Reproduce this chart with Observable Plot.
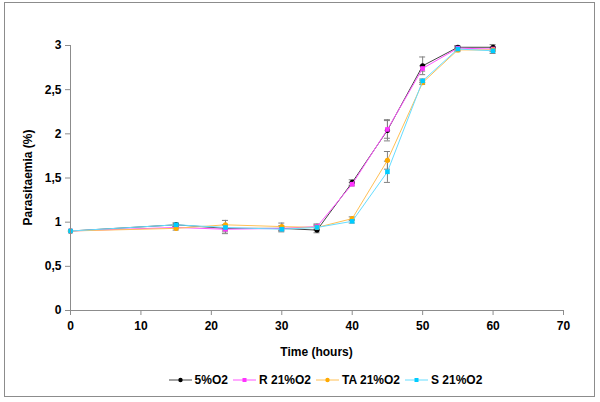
<!DOCTYPE html>
<html>
<head>
<meta charset="utf-8">
<script src="https://cdn.jsdelivr.net/npm/d3@7"></script>
<script src="https://cdn.jsdelivr.net/npm/@observablehq/plot@0.6"></script>
<style>
  html, body { margin: 0; padding: 0; background: #fff; }
  #wrap { position: relative; width: 600px; height: 402px; overflow: hidden; font-family: "Liberation Sans", Arial, sans-serif; }
  #frame { position: absolute; left: 4px; top: 2px; width: 589px; height: 393px; border: 1px solid #8c8c8c; pointer-events: none; }
  #chart { position: absolute; left: 0; top: 0; }
  #legend { position: absolute; left: 0; top: 371px; width: 600px; height: 18px; display: flex; justify-content: center; align-items: center; font: bold 12px "Liberation Sans", Arial, sans-serif; color: #000; padding-left: 56px; box-sizing: border-box; }
  .item { display: flex; align-items: center; margin-right: 5px; }
  .item svg { margin-right: 3px; }
</style>
</head>
<body>
<div id="wrap">
  <div id="chart"></div>
  <div id="legend"></div>
  <div id="frame"></div>
</div>
<script>
const hours = [0, 15, 22, 30, 35, 40, 45, 50, 55, 60];
const seriesNames = ["5%O2", "R 21%O2", "TA 21%O2", "S 21%O2"];
const v5 = [0.90, 0.97, 0.93, 0.93, 0.91, 1.45, 2.04, 2.77, 2.98, 2.98];
const vR = [0.90, 0.94, 0.92, 0.93, 0.95, 1.43, 2.05, 2.74, 2.97, 2.96];
const vTA = [0.90, 0.93, 0.97, 0.95, 0.94, 1.04, 1.70, 2.58, 2.95, 2.95];
const vS = [0.90, 0.97, 0.94, 0.92, 0.94, 1.01, 1.57, 2.60, 2.96, 2.94];
const e5 = [0, 0.02, 0.04, 0.03, 0.03, 0.03, 0.12, 0.10, 0.02, 0.03];
const eR = [0, 0.01, 0.05, 0.02, 0.03, 0.02, 0.10, 0.03, 0.02, 0.02];
const eTA = [0, 0.02, 0.05, 0.04, 0.02, 0.02, 0.10, 0.02, 0.02, 0.02];
const eS = [0, 0.02, 0.03, 0.03, 0.03, 0.02, 0.12, 0.02, 0.02, 0.03];
const xTicks = [0, 10, 20, 30, 40, 50, 60, 70];
const yTicks = [0, 0.5, 1, 1.5, 2, 2.5, 3];
const lineColors = ["#444444", "#ff55ff", "#ffc055", "#66ddff"];
const markColors = ["#000000", "#ff33ff", "#ffaa00", "#00ccff"];
const markSymbols = ["circle", "square", "circle", "square"];

const values = [v5, vR, vTA, vS];
const errs = [e5, eR, eTA, eS];
const data = [];
seriesNames.forEach((s, i) => hours.forEach((h, j) => data.push({series: s, idx: i, t: h, v: values[i][j], e: errs[i][j]})));

const fmt = d => String(d).replace(".", ",");
const font = 'bold 12px "Liberation Sans", Arial, sans-serif';

const marks = [];
const errData = data.filter(d => d.e > 0);
marks.push(Plot.ruleX(errData, {x: "t", y1: d => d.v - d.e, y2: d => d.v + d.e, stroke: "#808080", strokeWidth: 1}));
marks.push(Plot.ruleY(errData, {y: d => d.v + d.e, x1: "t", x2: "t", insetLeft: -3, insetRight: -3, stroke: "#808080", strokeWidth: 1}));
marks.push(Plot.ruleY(errData, {y: d => d.v - d.e, x1: "t", x2: "t", insetLeft: -3, insetRight: -3, stroke: "#808080", strokeWidth: 1}));
seriesNames.forEach((s, i) => {
  const sd = data.filter(d => d.idx === i);
  marks.push(Plot.line(sd, {x: "t", y: "v", stroke: lineColors[i], strokeWidth: 1}));
  marks.push(Plot.dot(sd, {x: "t", y: "v", fill: markColors[i], stroke: "none", symbol: markSymbols[i], r: markSymbols[i] === "square" ? 2.6 : 2.6}));
});
marks.push(Plot.ruleX([0], {stroke: "#8c8c8c"}));
marks.push(Plot.ruleY([0], {stroke: "#8c8c8c"}));
marks.push(Plot.axisX({ticks: xTicks, tickSize: 5, tickPadding: 6, stroke: "#8c8c8c", label: null, fill: "#000"}));
marks.push(Plot.axisY({ticks: yTicks, tickSize: 5, tickPadding: 4, tickFormat: fmt, stroke: "#8c8c8c", label: null, fill: "#000"}));

const chart = Plot.plot({
  width: 600,
  height: 360,
  marginLeft: 70,
  marginRight: 37,
  marginTop: 45,
  marginBottom: 50,
  style: {font: font, background: "#fff", overflow: "visible"},
  x: {domain: [0, 70]},
  y: {domain: [0, 3]},
  marks
});
document.getElementById("chart").appendChild(chart);

const svg = d3.select(chart.tagName.toLowerCase() === "svg" ? chart : chart.querySelector("svg"));
svg.append("text").attr("x", (70 + 563) / 2).attr("y", 356).attr("text-anchor", "middle")
  .style("font", font).text("Time (hours)");
svg.append("text").attr("transform", "translate(32," + ((45 + 310) / 2) + ") rotate(-90)").attr("text-anchor", "middle")
  .style("font", font).text("Parasitaemia (%)");

const legend = d3.select("#legend");
seriesNames.forEach((s, i) => {
  const it = legend.append("div").attr("class", "item");
  const sw = it.append("svg").attr("width", 23).attr("height", 10);
  sw.append("line").attr("x1", 0).attr("x2", 23).attr("y1", 5).attr("y2", 5).attr("stroke", lineColors[i]).attr("stroke-width", 1);
  if (markSymbols[i] === "square") sw.append("rect").attr("x", 9.5).attr("y", 3).attr("width", 4).attr("height", 4).attr("fill", markColors[i]);
  else sw.append("circle").attr("cx", 11.5).attr("cy", 5).attr("r", 2.2).attr("fill", markColors[i]);
  it.append("span").text(s);
});
</script>
</body>
</html>
